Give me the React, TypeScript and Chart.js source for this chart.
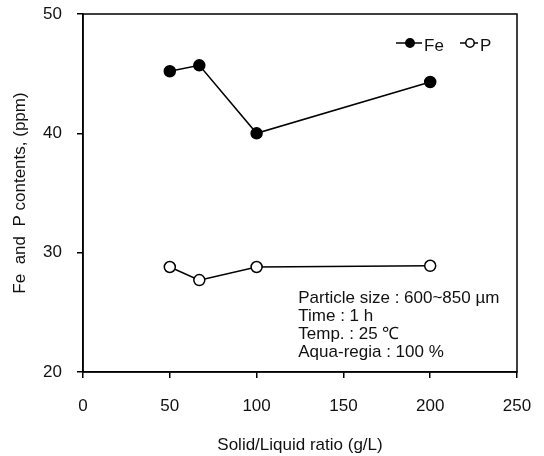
import React, { useEffect, useRef } from "react";
import { Chart, registerables } from "chart.js";

Chart.register(...registerables);

const ratioFe = [50, 67, 100, 200];
const feValues = [45.2, 45.7, 40.0, 44.3];
const ratioP = [50, 67, 100, 200];
const pValues = [28.8, 27.7, 28.8, 28.9];
const xTicks = [0, 50, 100, 150, 200, 250];
const yTicks = [20, 30, 40, 50];
const noteLines = [
  "Particle size : 600~850 \u00b5m",
  "Time : 1 h",
  "Temp. : 25 \u2103",
  "Aqua-regia : 100 %",
];
const seriesNames = ["Fe", "P"];

const FONT = "'Liberation Sans', Arial, sans-serif";

const framePlugin = {
  id: "frame",
  afterDraw(chart: any) {
    const { ctx, chartArea } = chart;
    ctx.save();
    ctx.strokeStyle = "#000";
    ctx.lineWidth = 1.5;
    ctx.strokeRect(chartArea.left, chartArea.top, chartArea.right - chartArea.left, chartArea.bottom - chartArea.top);
    ctx.restore();
  },
};

const notePlugin = {
  id: "note",
  afterDraw(chart: any) {
    const { ctx, scales } = chart;
    const x = scales.x.getPixelForValue(124);
    const y0 = scales.y.getPixelForValue(26.2);
    ctx.save();
    ctx.fillStyle = "#111";
    ctx.font = `17px ${FONT}`;
    ctx.textBaseline = "middle";
    ctx.textAlign = "left";
    noteLines.forEach((t, i) => ctx.fillText(t, x, y0 + i * 18));
    ctx.restore();
  },
};

const legendPlugin = {
  id: "customLegend",
  afterDraw(chart: any) {
    const { ctx, chartArea } = chart;
    const cy = chartArea.top + 29;
    const items = [
      { x: chartArea.right - 121, lineW: 26, fill: "#000", label: seriesNames[0] },
      { x: chartArea.right - 57, lineW: 18, fill: "#fff", label: seriesNames[1] },
    ];
    ctx.save();
    ctx.font = `17px ${FONT}`;
    ctx.textBaseline = "middle";
    ctx.textAlign = "left";
    items.forEach((it) => {
      ctx.strokeStyle = "#000";
      ctx.lineWidth = 1.5;
      ctx.beginPath();
      ctx.moveTo(it.x, cy);
      ctx.lineTo(it.x + it.lineW, cy);
      ctx.stroke();
      ctx.beginPath();
      ctx.arc(it.x + it.lineW / 2 + 1, cy, 4.2, 0, Math.PI * 2);
      ctx.fillStyle = it.fill;
      ctx.fill();
      ctx.stroke();
      ctx.fillStyle = "#111";
      ctx.fillText(it.label, it.x + it.lineW + 2, cy + 3);
    });
    ctx.restore();
  },
};

export default function App() {
  const ref = useRef<HTMLCanvasElement>(null);
  useEffect(() => {
    document.body.style.margin = "0";
    const chart = new Chart(ref.current!, {
      type: "line",
      data: {
        datasets: [
          {
            label: seriesNames[0],
            data: ratioFe.map((x, i) => ({ x, y: feValues[i] })),
            borderColor: "#000",
            borderWidth: 1.5,
            pointRadius: 5.5,
            pointBackgroundColor: "#000",
            pointBorderColor: "#000",
            pointBorderWidth: 1.5,
          },
          {
            label: seriesNames[1],
            data: ratioP.map((x, i) => ({ x, y: pValues[i] })),
            borderColor: "#000",
            borderWidth: 1.5,
            pointRadius: 5.5,
            pointBackgroundColor: "#fff",
            pointBorderColor: "#000",
            pointBorderWidth: 1.5,
          },
        ],
      },
      options: {
        animation: false,
        responsive: false,
        layout: { padding: { top: 14, right: 27, left: 0, bottom: 0 } },
        plugins: { legend: { display: false }, tooltip: { enabled: false } },
        scales: {
          x: {
            type: "linear",
            min: xTicks[0],
            max: xTicks[xTicks.length - 1],
            afterBuildTicks: (s: any) => {
              s.ticks = xTicks.map((v) => ({ value: v }));
            },
            afterFit: (s: any) => {
              s.height = 84;
              s.paddingLeft = 0;
              s.paddingRight = 0;
            },
            ticks: { color: "#111", font: { family: FONT, size: 17 }, padding: 18, maxRotation: 0 },
            grid: { drawOnChartArea: false, drawTicks: true, tickLength: 6, color: "#000", lineWidth: 1.5 },
            border: { display: true, color: "#000", width: 1.5 },
            title: {
              display: true,
              text: "Solid/Liquid ratio (g/L)",
              color: "#111",
              font: { family: FONT, size: 17 },
              padding: { top: 6, bottom: 0 },
            },
          },
          y: {
            type: "linear",
            min: yTicks[0],
            max: yTicks[yTicks.length - 1],
            afterBuildTicks: (s: any) => {
              s.ticks = yTicks.map((v) => ({ value: v }));
            },
            afterFit: (s: any) => {
              s.width = 83;
              s.paddingTop = 0;
              s.paddingBottom = 0;
            },
            ticks: { color: "#111", font: { family: FONT, size: 17 }, padding: 15 },
            grid: { drawOnChartArea: false, drawTicks: true, tickLength: 6, color: "#000", lineWidth: 1.5 },
            border: { display: true, color: "#000", width: 1.5 },
            title: {
              display: true,
              text: "Fe  and  P contents, (ppm)",
              color: "#111",
              font: { family: FONT, size: 17 },
              padding: { top: 10, bottom: 0 },
            },
          },
        },
      },
      plugins: [framePlugin, notePlugin, legendPlugin],
    });
    return () => chart.destroy();
  }, []);
  return <canvas ref={ref} width={544} height={456} style={{ display: "block" }} />;
}
